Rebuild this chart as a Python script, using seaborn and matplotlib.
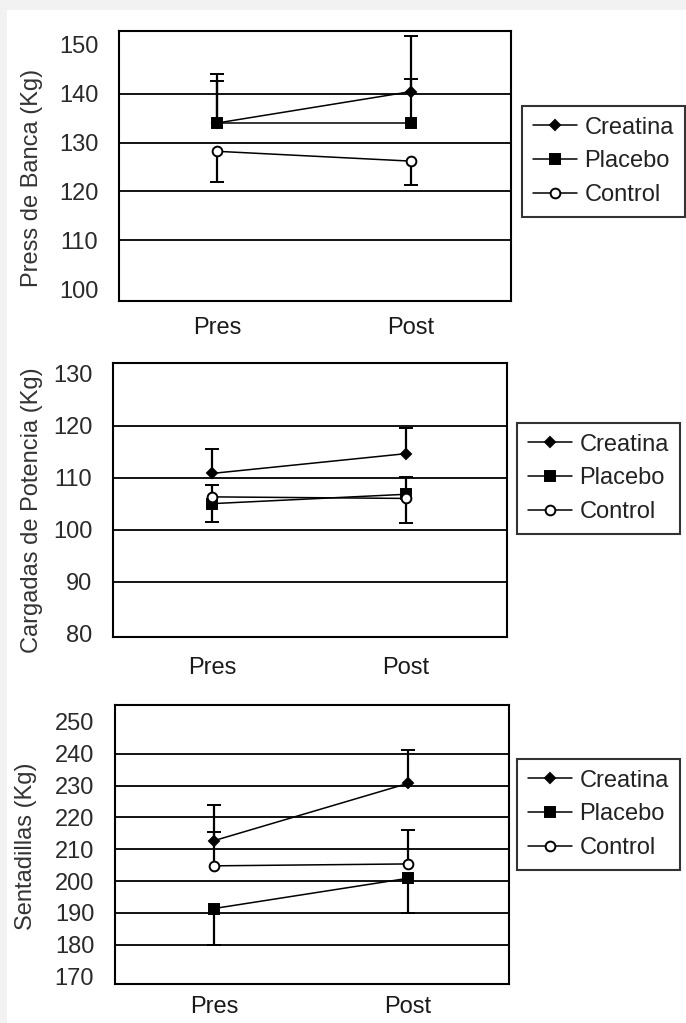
import numpy as np
import pandas as pd
import seaborn as sns
import matplotlib.pyplot as plt
from matplotlib.patches import Rectangle

# data
times = ["Pres", "Post"]
groups = ["Creatina", "Placebo", "Control"]

panel_titles = ["Press de Banca (Kg)", "Cargadas de Potencia (Kg)", "Sentadillas (Kg)"]
panel_ticks = [[100, 110, 120, 130, 140, 150],
               [80, 90, 100, 110, 120, 130],
               [170, 180, 190, 200, 210, 220, 230, 240, 250]]
panel_ylims = [(97.6, 152.8), (79.4, 132.0), (167.7, 255.3)]

# means per group (Pres, Post)
press_means = {"Creatina": [134.0, 140.4], "Placebo": [134.0, 134.0], "Control": [128.2, 126.2]}
cargadas_means = {"Creatina": [110.8, 114.6], "Placebo": [105.0, 106.8], "Control": [106.3, 106.0]}
sentadillas_means = {"Creatina": [212.7, 230.7], "Placebo": [191.4, 200.9], "Control": [204.8, 205.4]}

# standard deviations, only one side is drawn in the figure
press_sd = {"Creatina": [10.1, 11.4], "Placebo": [8.5, 9.0], "Control": [6.2, 4.9]}
cargadas_sd = {"Creatina": [4.6, 5.0], "Placebo": [3.5, 5.5], "Control": [2.2, 4.1]}
sentadillas_sd = {"Creatina": [11.2, 10.4], "Placebo": [11.5, 10.8], "Control": [10.7, 10.6]}

press_side = {"Creatina": "up", "Placebo": "up", "Control": "down"}
cargadas_side = {"Creatina": "up", "Placebo": "down", "Control": "up"}
sentadillas_side = {"Creatina": "up", "Placebo": "down", "Control": "up"}

all_means = [press_means, cargadas_means, sentadillas_means]
all_sd = [press_sd, cargadas_sd, sentadillas_sd]
all_side = [press_side, cargadas_side, sentadillas_side]

marker_style = {"Creatina": dict(marker="D", ms=5, mfc="black"),
                "Placebo": dict(marker="s", ms=7.5, mfc="black"),
                "Control": dict(marker="o", ms=7, mfc="white")}

sns.set_style("white")
plt.rcParams["font.family"] = ["Liberation Sans", "DejaVu Sans"]

fig = plt.figure(figsize=(6.86, 10.23), dpi=100, facecolor="#f2f2f2")
fig.patches.append(Rectangle((7 / 686, 0), 1, 1 - 10 / 1023, transform=fig.transFigure,
                             facecolor="white", edgecolor="none", zorder=-10))

# axes boxes in pixels: left, top, right, bottom
boxes = [(119, 31, 511, 301), (113, 363, 507, 637), (115, 705, 509, 984)]
legend_corners = [(522, 106), (517, 423), (517, 759)]
xpads = [11.5, 14.5, 8.5]
label_coords = [(-0.194, 0.456), (-0.178, 0.463), (-0.198, 0.495)]

for i in range(3):
    l, t, r, b = boxes[i]
    ax = fig.add_axes([l / 686, 1 - b / 1023, (r - l) / 686, (b - t) / 1023])
    ax.set_facecolor("white")

    rows = []
    for g in groups:
        for j, tm in enumerate(times):
            rows.append({"time": tm, "value": all_means[i][g][j], "group": g})
    df = pd.DataFrame(rows)

    for g in groups:
        sub = df[df["group"] == g]
        st = marker_style[g]
        sns.lineplot(data=sub, x="time", y="value", ax=ax, color="black", lw=1.1,
                     marker=st["marker"], ms=st["ms"], markerfacecolor=st["mfc"],
                     markeredgecolor="black", markeredgewidth=1.4, label=g,
                     errorbar=None, sort=False, zorder=4)
        sd = np.array(all_sd[i][g])
        zeros = np.zeros_like(sd)
        if all_side[i][g] == "up":
            yerr = [zeros, sd]
        else:
            yerr = [sd, zeros]
        eb = ax.errorbar(sub["time"], sub["value"], yerr=yerr, fmt="none", ecolor="black",
                         elinewidth=1.6, capsize=4.8, capthick=1.4, zorder=3)
        caps = eb[1]
        if all_side[i][g] == "up":
            caps[0].set_visible(False)
        else:
            caps[1].set_visible(False)

    ticks = panel_ticks[i]
    for v in ticks[1:-1]:
        ax.axhline(v, color="black", lw=1.3, zorder=1)

    ax.set_xlim(-0.51, 1.52)
    ax.set_ylim(*panel_ylims[i])
    ax.set_yticks(ticks)
    ax.set_xlabel("")
    ax.set_ylabel(panel_titles[i], fontsize=17, color="#333333")
    ax.yaxis.set_label_coords(*label_coords[i])
    ax.tick_params(axis="y", length=0, pad=15, labelsize=17, labelcolor="#2a2a2a")
    ax.tick_params(axis="x", length=0, pad=xpads[i], labelsize=17, labelcolor="#1a1a1a")
    for sp in ax.spines.values():
        sp.set_color("black")
        sp.set_linewidth(1.5)

    handles, labels = ax.get_legend_handles_labels()
    lx, ly = legend_corners[i]
    leg = ax.legend(handles, labels, loc="upper left",
                    bbox_to_anchor=(lx / 686, 1 - ly / 1023), bbox_transform=fig.transFigure,
                    borderaxespad=0, fontsize=17, frameon=True, fancybox=False,
                    handlelength=1.9, handletextpad=0.3, labelspacing=0.5,
                    borderpad=0.45, edgecolor="black")
    leg.get_frame().set_linewidth(1.5)
    for txt in leg.get_texts():
        txt.set_color("#222222")

fig.savefig("out.png", dpi=100, facecolor=fig.get_facecolor())
